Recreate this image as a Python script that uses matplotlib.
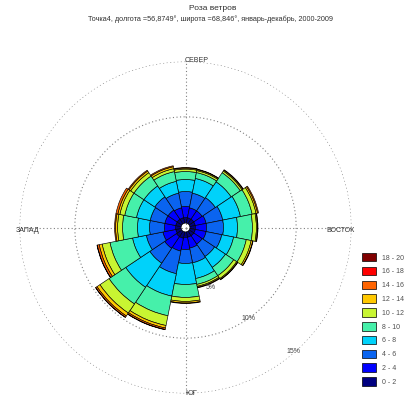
import numpy as np
import matplotlib
matplotlib.use('Agg')
import matplotlib.pyplot as plt

plt.rcParams['font.family'] = ['Liberation Sans', 'DejaVu Sans']

# 16 directions, clockwise from North
directions = ['N', 'NNE', 'NE', 'ENE', 'E', 'ESE', 'SE', 'SSE',
              'S', 'SSW', 'SW', 'WSW', 'W', 'WNW', 'NW', 'NNW']
direction_deg = [0, 22.5, 45, 67.5, 90, 112.5, 135, 157.5,
                 180, 202.5, 225, 247.5, 270, 292.5, 315, 337.5]

speed_labels = ['0 - 2', '2 - 4', '4 - 6', '6 - 8', '8 - 10',
                '10 - 12', '12 - 14', '14 - 16', '16 - 18', '18 - 20']
speed_colors = ['#000080', '#0000FF', '#0A64F0', '#00D2FA', '#46F0AA',
                '#C8F532', '#FFC800', '#FF6400', '#FF0000', '#800000']

# frequency (%) for each speed class, per direction
s_0_2   = [0.50, 0.50, 0.50, 0.50, 0.50, 0.50, 0.50, 0.50, 0.50, 0.59, 0.59, 0.50, 0.50, 0.50, 0.50, 0.50]
s_2_4   = [1.00, 0.91, 0.91, 1.00, 1.00, 1.00, 0.91, 1.00, 1.09, 1.18, 1.27, 1.18, 1.00, 1.00, 1.00, 0.91]
s_4_6   = [1.35, 1.35, 1.44, 1.53, 1.53, 1.44, 1.35, 1.35, 1.26, 2.08, 1.62, 1.53, 1.35, 1.35, 1.44, 1.35]
s_6_8   = [1.09, 1.36, 1.72, 1.63, 1.27, 1.09, 1.18, 1.45, 1.90, 2.07, 2.62, 1.27, 1.09, 1.27, 1.18, 1.09]
s_8_10  = [0.72, 0.54, 0.99, 1.08, 1.35, 1.17, 0.90, 0.54, 1.17, 1.81, 1.81, 2.08, 1.35, 1.08, 1.08, 0.90]
s_10_12 = [0.22, 0.18, 0.18, 0.36, 0.36, 0.45, 0.32, 0.18, 0.36, 0.90, 0.99, 0.72, 0.45, 0.45, 0.36, 0.27]
s_12_14 = [0.09, 0.09, 0.09, 0.14, 0.09, 0.14, 0.09, 0.09, 0.14, 0.23, 0.32, 0.27, 0.18, 0.18, 0.18, 0.18]
s_14_16 = [0.05, 0.04, 0.05, 0.09, 0.05, 0.04, 0.04, 0.05, 0.05, 0.13, 0.14, 0.18, 0.09, 0.18, 0.09, 0.09]
s_16_18 = [0.00, 0.00, 0.00, 0.00, 0.00, 0.00, 0.00, 0.00, 0.00, 0.03, 0.02, 0.03, 0.00, 0.00, 0.00, 0.00]
s_18_20 = [0.00, 0.00, 0.00, 0.00, 0.00, 0.00, 0.00, 0.00, 0.00, 0.00, 0.00, 0.00, 0.00, 0.00, 0.00, 0.00]

series = [s_0_2, s_2_4, s_4_6, s_6_8, s_8_10, s_10_12, s_12_14, s_14_16, s_16_18, s_18_20]

ring_values = [5, 10, 15]
ring_labels = ['5%', '10%', '15%']
cardinal_labels = ['СЕВЕР', 'ВОСТОК', 'ЮГ', 'ЗАПАД']

title = 'Роза ветров'
subtitle = 'Точка4, долгота =56,8749°, широта =68,846°, январь-декабрь, 2000-2009'

hole = 0.4  # empty centre

W, H = 411, 403
fig = plt.figure(figsize=(W / 100, H / 100), dpi=100)
cx, cy, R = 185.5, 227.5, 166.0
ax = fig.add_axes([(cx - R) / W, (H - cy - R) / H, 2 * R / W, 2 * R / H],
                  projection='polar')
ax.set_theta_zero_location('N')
ax.set_theta_direction(-1)
ax.set_ylim(0, 15)
ax.set_xticks([])
ax.set_yticks([])
ax.grid(False)
ax.spines['polar'].set_visible(False)
ax.patch.set_alpha(0)

grid_kw = dict(color='#808080', lw=0.8, ls=(0, (1, 2.2)), zorder=0)
th = np.linspace(0, 2 * np.pi, 721)
for rv in ring_values:
    ax.plot(th, np.full_like(th, rv), **grid_kw)
for a in [0, 90, 180, 270]:
    ax.plot([np.deg2rad(a)] * 2, [0, 15], **grid_kw)

theta = np.deg2rad(direction_deg)
width = 2 * np.pi / len(directions)
bottom = np.full(len(directions), hole)
for vals, col in zip(series, speed_colors):
    vals = np.array(vals)
    m = vals > 0
    if m.any():
        ax.bar(theta[m], vals[m], width=width, bottom=bottom[m], color=col,
               edgecolor='black', linewidth=0.45, zorder=2)
    bottom = bottom + vals

# ring labels
lab_pos = [(157.4, 5.87), (145.4, 9.95), (138.9, 14.85)]
for (bd, rr), t in zip(lab_pos, ring_labels):
    ax.text(np.deg2rad(bd), rr, t, fontsize=5, color='#404040',
            ha='center', va='center')

tc = '#303030'
ax.annotate(cardinal_labels[0], (0, 15), xytext=(-1, 1), textcoords='offset pixels',
            fontsize=5, color=tc, ha='left', va='center')
ax.annotate(cardinal_labels[1], (np.pi / 2, 15), xytext=(3, -3), textcoords='offset pixels',
            fontsize=5, color=tc, ha='right', va='center')
ax.annotate(cardinal_labels[2], (np.pi, 15), xytext=(0, 0), textcoords='offset pixels',
            fontsize=5.5, color=tc, ha='left', va='center')
ax.annotate(cardinal_labels[3], (3 * np.pi / 2, 15), xytext=(-4, -3), textcoords='offset pixels',
            fontsize=5, color=tc, ha='left', va='center')

fig.text(213 / W, 1 - 8 / H, title, fontsize=6, color=tc, ha='center', va='center')
fig.text(210 / W, 1 - 19 / H, subtitle, fontsize=5.2, color=tc, ha='center', va='center')

handles = [matplotlib.patches.Patch(facecolor=c, edgecolor='black', linewidth=0.5)
           for c in speed_colors[::-1]]
fig.legend(handles, speed_labels[::-1], loc='upper left',
           bbox_to_anchor=(362 / W, 1 - 253 / H), frameon=False,
           fontsize=5, labelcolor='#505050', handlelength=2.0, handleheight=1.5,
           labelspacing=0.76, handletextpad=0.9, borderaxespad=0, borderpad=0)

fig.savefig('out.png', dpi=100)
